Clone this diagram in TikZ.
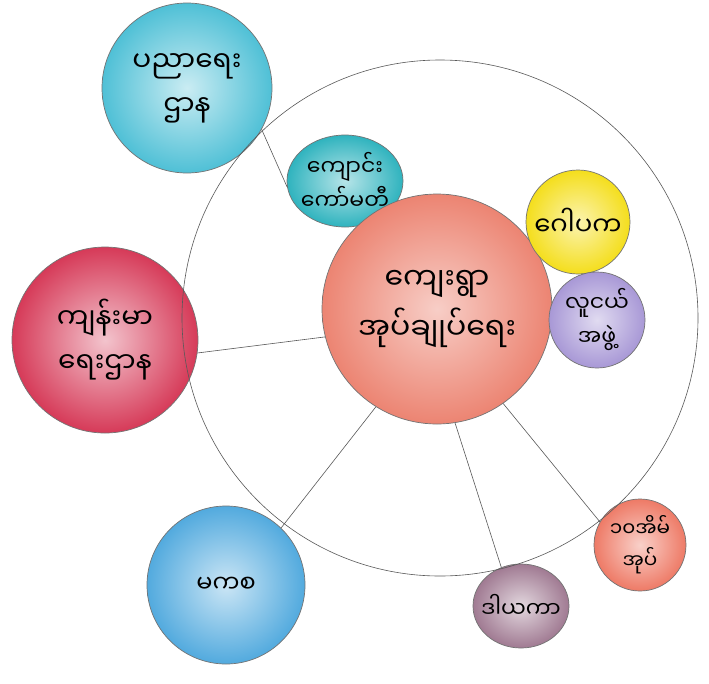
\documentclass[tikz,border=0pt]{standalone}
\usepackage{fontspec}
\newfontfamily\mmfont[Script=Myanmar]{Noto Sans Myanmar UI}
\newcommand\mmsize[2]{\mmfont\fontsize{#1}{#2}\selectfont}
\usetikzlibrary{shapes.geometric}
\definecolor{eduBlue}{HTML}{4FC0D6}
\definecolor{comTeal}{HTML}{2FB3BE}
\definecolor{sunYellow}{HTML}{F4DE1C}
\definecolor{lavender}{HTML}{A898D6}
\definecolor{salmon}{HTML}{EC8472}
\definecolor{crimson}{HTML}{D63A58}
\definecolor{skyBlue}{HTML}{52AADE}
\definecolor{mauve}{HTML}{A07A92}
\definecolor{coral}{HTML}{EE7A66}
\begin{document}
\begin{tikzpicture}[x=1pt,y=-1pt,
  bubble/.style={circle, draw=black!55, line width=0.7pt, inner sep=0pt},
  txt/.style={align=center, inner sep=0pt, text=black},
  link/.style={draw=black!65, line width=0.6pt}]
\useasboundingbox[fill=white] (0,0) rectangle (709,683);

\node[bubble, minimum size=170pt, inner color=eduBlue!30, outer color=eduBlue,
  label={[txt, font=\mmsize{28}{44}]center:{ပညာရေး\\ဌာန}}] (edu) at (187,88) {};
\node[bubble, ellipse, minimum width=116pt, minimum height=92pt, inner color=comTeal!35, outer color=comTeal,
  label={[txt, font=\mmsize{22}{34}]center:{ကျောင်း\\ကော်မတီ}}] (com) at (345,181) {};
\node[bubble, minimum size=230pt, inner color=salmon!40, outer color=salmon,
  label={[txt, font=\mmsize{30}{50}]center:{ကျေးရွာ\\အုပ်ချုပ်ရေး}}] (vil) at (437,309) {};
\node[bubble, minimum size=104pt, inner color=sunYellow!35, outer color=sunYellow,
  label={[txt, font=\mmsize{26}{36}]center:{ဂေါပက}}] (pag) at (578,222) {};
\node[bubble, minimum size=96pt, inner color=lavender!35, outer color=lavender,
  label={[txt, font=\mmsize{22}{34}]center:{လူငယ်\\အဖွဲ့}}] (you) at (597,320) {};
\node[bubble, minimum size=186pt, inner color=crimson!30, outer color=crimson,
  label={[txt, font=\mmsize{28}{44}]center:{ကျန်းမာ\\ရေးဌာန}}] (hea) at (105,340) {};
\node[bubble, minimum size=158pt, inner color=skyBlue!30, outer color=skyBlue,
  label={[txt, font=\mmsize{24}{36}]center:{မကစ}}] (mcw) at (226,585) {};
\node[bubble, ellipse, minimum width=96pt, minimum height=84pt, inner color=mauve!30, outer color=mauve,
  label={[txt, font=\mmsize{22}{34}]center:{ဒါယကာ}}] (don) at (521,606) {};
\node[bubble, minimum size=92pt, inner color=coral!35, outer color=coral,
  label={[txt, font=\mmsize{20}{32}]center:{၁၀အိမ်\\အုပ်}}] (ten) at (640,545) {};

\draw[draw=black!65, line width=0.6pt] (440,318) circle[radius=258pt];

\draw[link] (edu.-29) -- (com.186);
\draw[link] (hea.-8) -- (vil.194);
\draw[link] (mcw.46) -- (vil.238);
\draw[link] (don.117) -- (vil.279);
\draw[link] (ten.150) -- (vil.305);
\end{tikzpicture}
\end{document}
